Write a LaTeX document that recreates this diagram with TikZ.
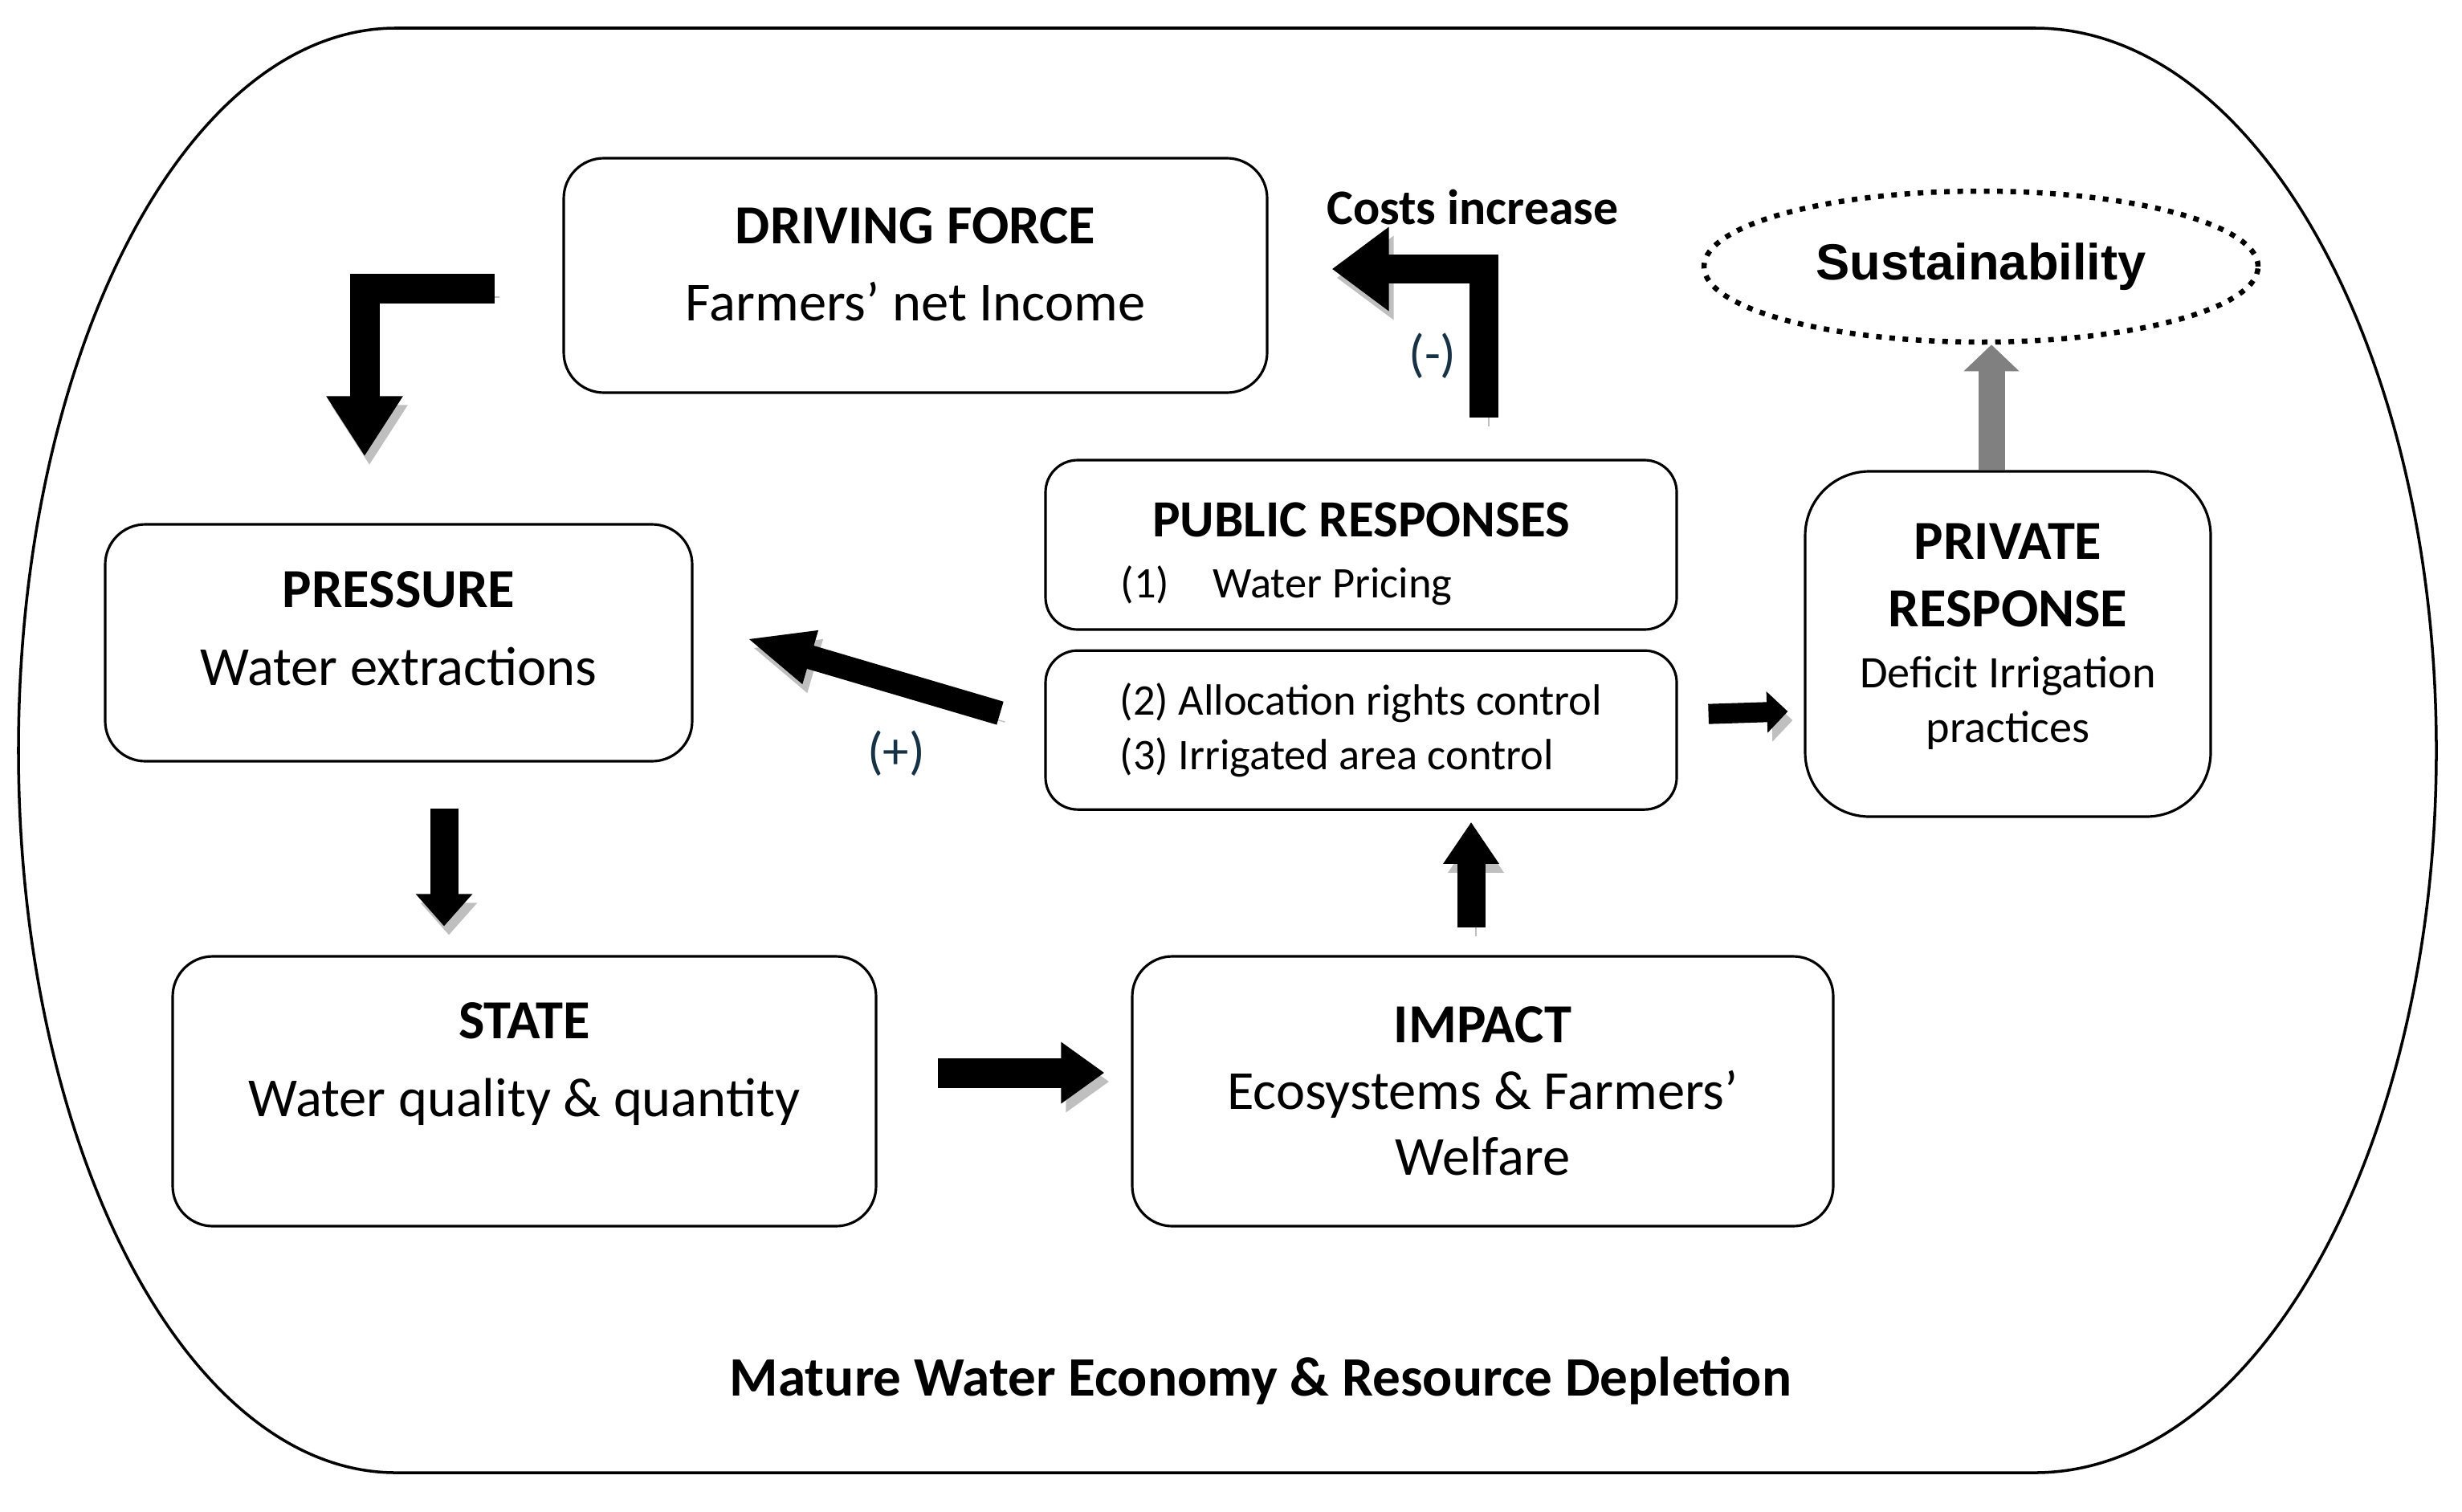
\documentclass[tikz,border=0pt]{standalone}
\usepackage{fontspec}
\setmainfont{Carlito}
\newfontfamily\sustfont{Liberation Sans}
\usepackage{tikz}
\usetikzlibrary{arrows.meta,positioning,calc,shapes.geometric}
\definecolor{signtext}{RGB}{22,50,68}
\newcommand{\stagehead}{\fontsize{19.5}{23.5}\selectfont\bfseries}
\tikzset{
  stagebox/.style={draw,line width=0.9pt,rounded corners=0.5cm,align=center,
    inner sep=0pt,font=\fontsize{19.5}{23.5}\selectfont},
  responsebox/.style={draw,line width=0.9pt,rounded corners=0.4cm,align=center,
    inner sep=0pt,minimum width=7.86cm,font=\fontsize{15.5}{19.3}\selectfont},
  blockarrow/.style n args={3}{line width=#1,-{Triangle[width=#2,length=#3]},
    preaction={draw=black!25,transform canvas={shift={(0.06,-0.11)}}}},
  greyarrow/.style={line width=0.33cm,draw=black!50,-{Triangle[width=0.67cm,length=0.33cm]}},
  goalellipse/.style={draw,ellipse,line width=0.065cm,dash pattern=on 0.07cm off 0.095cm,
    minimum width=6.9cm,minimum height=1.88cm,inner sep=0pt},
  signlabel/.style={font=\fontsize{18.5}{22}\selectfont,text=signtext},
  figurelabel/.style={font=\fontsize{19.7}{23.5}\selectfont\bfseries}
}

\begin{document}
\begin{tikzpicture}
  \useasboundingbox (0,0) rectangle (30.66,-18.82);
  % outer frame
  \draw[line width=1pt] (4.93,-0.35) -- (25.34,-0.35)
    arc[start angle=90,end angle=-90,x radius=5.0,y radius=8.995] -- (4.93,-18.34)
    arc[start angle=270,end angle=90,x radius=4.7,y radius=8.995] -- cycle;

  \node[stagebox,minimum width=8.76cm,minimum height=2.92cm] (df) at (11.40,-3.43)
    {\textbf{DRIVING FORCE}\\[4pt] Farmers’ net Income\rule[-0.28cm]{0pt}{0pt}};
  \node[stagebox,minimum width=7.31cm,minimum height=2.95cm] (pressure) at (4.965,-8.005)
    {\textbf{PRESSURE}\\[4pt] Water extractions\rule[-0.36cm]{0pt}{0pt}};
  \node[stagebox,minimum width=8.76cm,minimum height=3.36cm] (state) at (6.53,-13.59)
    {\textbf{STATE}\\[4pt] Water quality \& quantity\rule[-0.79cm]{0pt}{0pt}};
  \node[stagebox,minimum width=8.73cm,minimum height=3.36cm] (impact) at (18.465,-13.59)
    {\textbf{IMPACT}\\ Ecosystems \& Farmers’\\ Welfare};
  \node[responsebox,minimum height=2.11cm] (public) at (16.95,-6.785)
    {{\fontsize{18.5}{22}\selectfont\bfseries\rule{0pt}{0.66cm}PUBLIC RESPONSES}\\[2.3pt] (1)\quad Water Pricing\hspace*{1.86cm}};
  \node[responsebox,below=0.23cm of public,minimum height=1.98cm,align=left] (controls)
    {(2) Allocation rights control\\ (3) Irrigated area control};
  \node[stagebox,rounded corners=0.8cm,minimum width=5.05cm,minimum height=4.30cm,
    font=\fontsize{16}{19.3}\selectfont] (private) at (25.005,-8.02)
    {{\stagehead PRIVATE}\\[4.7pt] {\stagehead RESPONSE}\\[2.3pt] Deficit Irrigation\\ practices\rule[-0.28cm]{0pt}{0pt}};
  \node[goalellipse] (sustain) at (24.67,-3.32) {\sustfont\fontsize{18}{21}\selectfont\bfseries Sustainability};

  % DPSIR loop
  \draw[blockarrow={0.37cm}{0.9cm}{0.75cm}] ($(df.west)+(-0.84,-0.16)$) -| ($(pressure.north)+(-0.425,0.83)$);
  \draw[blockarrow={0.35cm}{0.68cm}{0.4cm}] ($(pressure.south)+(0.565,-0.57)$) -- ($(state.north)+(-1.0,0.36)$);
  \draw[blockarrow={0.37cm}{0.73cm}{0.54cm}] ($(state.east)+(0.75,0.23)$) -- ($(impact.west)+(-0.33,0.23)$);
  \draw[blockarrow={0.35cm}{0.66cm}{0.52cm}] ($(impact.north)+(-0.145,0.34)$) -- ($(controls.south)+(1.37,-0.14)$);
  \draw[blockarrow={0.25cm}{0.5cm}{0.26cm}] ($(controls.east)+(0.38,0.20)$) -- ($(private.west)+(-0.20,-0.84)$);
  \draw[blockarrow={0.30cm}{0.63cm}{0.83cm}] ($(controls.west)+(-0.55,0.21)$) -- ($(pressure.east)+(0.66,0.055)$);
  \draw[blockarrow={0.36cm}{1.0cm}{0.71cm}] ($(public.north)+(1.53,0.51)$) |- ($(df.east)+(0.79,0.08)$);
  \draw[greyarrow] ($(private.north)+(-0.205,0)$) -- ($(private.north |- sustain.south)+(-0.205,0)$);

  \node[font=\fontsize{17.6}{21}\selectfont\bfseries] (costs) at (18.34,-2.58) {Costs increase};
  \node[signlabel] (minus) at (17.84,-4.43) {(-)};
  \node[signlabel] (plus) at (11.16,-9.38) {(+)};
  \node[figurelabel] (title) at (15.70,-17.20) {Mature Water Economy \& Resource Depletion};
\end{tikzpicture}
\end{document}
